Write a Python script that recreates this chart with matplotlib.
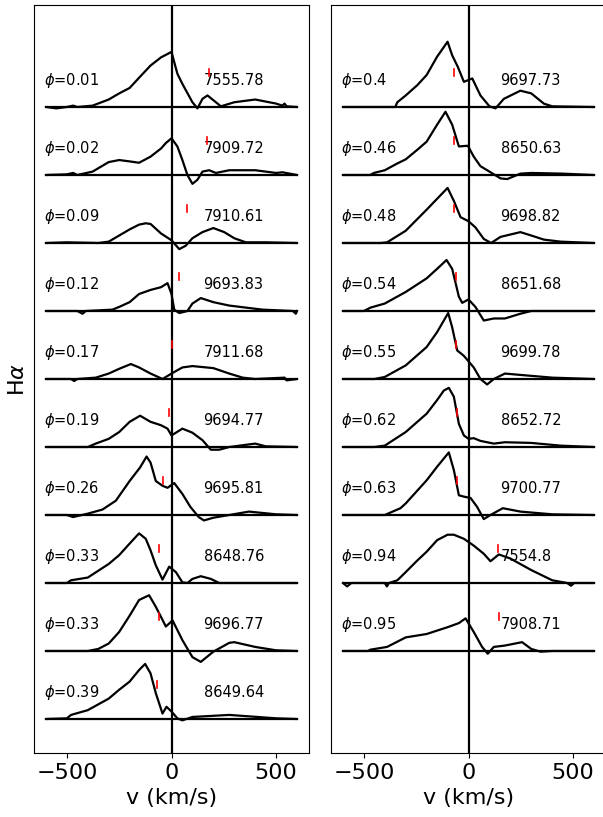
import matplotlib
matplotlib.use("Agg")
import matplotlib.pyplot as plt
import numpy as np

# ---------------- data (velocity km/s, relative flux) ----------------
phases_left = ["0.01", "0.02", "0.09", "0.12", "0.17", "0.19", "0.26", "0.33", "0.33", "0.39"]
ids_left = ["7555.78", "7909.72", "7910.61", "9693.83", "7911.68", "9694.77",
            "9695.81", "8648.76", "9696.77", "8649.64"]
marks_left = [177, 168, 72, 38, 0, -14, -43, -62, -62, -67]

phases_right = ["0.4", "0.46", "0.48", "0.54", "0.55", "0.62", "0.63", "0.94", "0.95"]
ids_right = ["9697.73", "8650.63", "9698.82", "8651.68", "9699.78", "8652.72",
             "9700.77", "7554.8", "7908.71"]
marks_right = [-67, -67, -67, -62, -62, -57, -53, 139, 148]

prof_0p01 = [(-600, 0), (-550, -0.02), (-500, 0.0), (-470, 0.02), (-450, 0), (-377, 0.02),
             (-300, 0.11), (-250, 0.2), (-200, 0.28), (-155, 0.43), (-100, 0.61),
             (-50, 0.73), (0, 0.81), (28, 0.49), (52, 0.34), (100, 0.07), (124, -0.02),
             (148, 0.12), (172, 0.17), (200, 0.1), (236, 0.01), (300, 0.07), (400, 0.11),
             (500, 0.05), (530, 0.02), (540, 0.05), (550, 0.01), (600, 0)]
prof_0p02 = [(-600, 0), (-500, 0.01), (-470, 0.03), (-450, 0.0), (-377, 0.05), (-300, 0.19),
             (-250, 0.22), (-200, 0.2), (-155, 0.18), (-100, 0.27), (-50, 0.39),
             (-27, 0.47), (0, 0.54), (28, 0.42), (52, 0.22), (76, 0.0), (100, -0.13),
             (124, -0.07), (148, 0.05), (180, 0.07), (212, 0.03), (276, 0.07), (400, 0.07),
             (500, 0.03), (530, 0.04), (600, 0)]
prof_0p09 = [(-600, 0), (-500, 0.01), (-350, 0.0), (-300, 0.02), (-250, 0.11), (-200, 0.2),
             (-155, 0.27), (-123, 0.29), (-100, 0.28), (-50, 0.14), (0, 0.04), (37, -0.09),
             (68, -0.04), (100, 0.07), (148, 0.16), (200, 0.22), (252, 0.16), (300, 0.07),
             (355, 0.01), (450, 0.01), (600, 0)]
prof_0p12 = [(-600, 0), (-450, 0.0), (-425, -0.04), (-410, 0.0), (-282, 0.02), (-250, 0.06),
             (-200, 0.13), (-155, 0.25), (-100, 0.31), (-50, 0.35), (-19, 0.41), (0, 0.25),
             (13, 0.02), (37, -0.03), (76, 0.0), (100, 0.11), (140, 0.19), (200, 0.13),
             (276, 0.08), (355, 0.05), (435, 0.02), (580, 0.0), (594, -0.04), (600, 0)]
prof_0p17 = [(-600, 0), (-480, 0.0), (-465, -0.03), (-450, 0.0), (-362, 0.02), (-300, 0.08),
             (-250, 0.15), (-194, 0.22), (-155, 0.17), (-100, 0.08), (-43, 0.0), (0, 0.08),
             (52, 0.17), (100, 0.19), (200, 0.16), (276, 0.08), (340, 0.02), (400, 0.0),
             (540, 0.02), (550, -0.02), (600, 0)]
prof_0p19 = [(-600, 0), (-400, 0.0), (-362, 0.05), (-300, 0.12), (-250, 0.22), (-200, 0.37),
             (-150, 0.46), (-100, 0.37), (-50, 0.32), (-19, 0.27), (0, 0.17), (52, 0.27),
             (100, 0.21), (148, 0.1), (188, -0.04), (228, -0.04), (276, 0.0), (400, 0.05),
             (450, 0.01), (600, 0)]
prof_0p26 = [(-600, 0), (-500, 0.0), (-470, -0.03), (-400, 0.02), (-330, 0.08), (-266, 0.21),
             (-200, 0.5), (-150, 0.7), (-119, 0.86), (-100, 0.77), (-75, 0.5), (-43, 0.43),
             (-19, 0.4), (13, 0.47), (52, 0.31), (90, 0.12), (130, -0.03), (155, -0.08),
             (200, -0.04), (276, 0.0), (370, 0.05), (435, 0.03), (500, 0.01), (600, 0)]
prof_0p33a = [(-600, 0), (-500, 0.0), (-480, 0.04), (-400, 0.08), (-300, 0.28), (-250, 0.41),
              (-200, 0.58), (-155, 0.73), (-123, 0.65), (-100, 0.48), (-75, 0.26),
              (-43, 0.05), (-11, 0.24), (21, 0.16), (52, 0.01), (76, 0.0), (100, 0.06),
              (140, 0.1), (188, 0.06), (228, 0.0), (600, 0)]
prof_0p33b = [(-600, 0), (-400, 0.0), (-350, 0.03), (-300, 0.11), (-250, 0.28), (-200, 0.52),
              (-155, 0.75), (-107, 0.82), (-75, 0.65), (-50, 0.5), (-27, 0.36), (5, 0.45),
              (52, 0.16), (100, -0.09), (140, -0.16), (200, -0.01), (276, 0.12),
              (300, 0.13), (400, 0.06), (500, 0.01), (600, 0)]
prof_0p39 = [(-600, 0), (-500, 0.01), (-480, 0.06), (-400, 0.13), (-300, 0.3), (-250, 0.43),
             (-200, 0.55), (-155, 0.72), (-126, 0.81), (-100, 0.67), (-75, 0.38),
             (-43, 0.08), (-24, 0.18), (0, 0.11), (28, 0.01), (52, -0.02), (100, 0.03),
             (276, 0.06), (500, 0.01), (600, 0)]

prof_0p4 = [(-600, 0), (-350, 0.0), (-340, 0.07), (-300, 0.17), (-245, 0.32), (-200, 0.47),
            (-150, 0.74), (-100, 0.96), (-78, 0.76), (-51, 0.59), (-22, 0.37), (18, 0.42),
            (57, 0.17), (100, 0.01), (129, -0.02), (169, 0.12), (248, 0.24), (300, 0.2),
            (360, 0.05), (400, 0.01), (600, 0)]
prof_0p46 = [(-600, 0), (-470, 0.0), (-452, 0.03), (-400, 0.07), (-340, 0.17), (-300, 0.23),
             (-245, 0.37), (-200, 0.49), (-150, 0.74), (-110, 0.93), (-78, 0.74),
             (-46, 0.42), (-3, 0.43), (25, 0.27), (57, 0.13), (100, 0.05), (153, -0.05),
             (185, -0.06), (248, 0.02), (300, 0.03), (450, 0.02), (600, 0)]
prof_0p48 = [(-600, 0), (-420, 0.0), (-389, 0.01), (-300, 0.18), (-200, 0.49), (-150, 0.65),
             (-100, 0.81), (-70, 0.62), (-38, 0.38), (0, 0.32), (33, 0.23), (73, 0.06),
             (108, 0.0), (153, 0.09), (248, 0.16), (300, 0.11), (360, 0.05), (440, 0.02),
             (600, 0)]
prof_0p54 = [(-600, 0), (-500, 0.0), (-468, 0.05), (-400, 0.11), (-300, 0.28), (-200, 0.48),
             (-150, 0.62), (-105, 0.75), (-78, 0.62), (-46, 0.21), (-30, 0.12), (0, 0.17),
             (33, 0.06), (73, -0.14), (121, -0.11), (174, -0.11), (248, -0.04), (300, 0.0),
             (600, 0)]
prof_0p55 = [(-600, 0), (-450, 0.0), (-400, 0.03), (-300, 0.2), (-200, 0.47), (-150, 0.69),
             (-97, 0.97), (-78, 0.76), (-54, 0.42), (-22, 0.34), (25, 0.17), (57, 0.0),
             (89, -0.08), (121, 0.0), (174, 0.08), (248, 0.06), (400, 0.02), (600, 0)]
prof_0p62 = [(-600, 0), (-450, 0.0), (-400, 0.02), (-300, 0.22), (-200, 0.49), (-150, 0.69),
             (-118, 0.83), (-94, 0.87), (-70, 0.74), (-46, 0.34), (-22, 0.17), (0, 0.12),
             (25, 0.13), (57, 0.09), (121, 0.05), (174, 0.07), (300, 0.06), (440, 0.02),
             (600, 0)]
prof_0p63 = [(-600, 0), (-400, 0.0), (-325, 0.1), (-300, 0.17), (-200, 0.51), (-150, 0.71),
             (-94, 0.92), (-70, 0.66), (-46, 0.29), (-22, 0.27), (10, 0.25), (41, 0.12),
             (73, -0.06), (105, 0.0), (164, 0.1), (248, 0.05), (400, 0.01), (600, 0)]
prof_0p94 = [(-600, 0), (-580, -0.05), (-560, 0.0), (-400, 0.0), (-390, -0.05), (-380, 0.0),
             (-340, 0.04), (-300, 0.16), (-245, 0.33), (-200, 0.46), (-150, 0.63),
             (-100, 0.71), (-70, 0.71), (-22, 0.65), (25, 0.55), (73, 0.43), (105, 0.32),
             (145, 0.42), (200, 0.36), (300, 0.19), (400, 0.04), (471, 0.0), (490, -0.04),
             (505, 0.0), (600, 0)]
prof_0p95 = [(-600, 0), (-480, 0.0), (-468, 0.02), (-389, 0.06), (-300, 0.2), (-200, 0.25),
             (-100, 0.35), (-46, 0.41), (-14, 0.48), (25, 0.28), (65, 0.06), (92, -0.04),
             (121, 0.06), (174, 0.08), (256, 0.13), (300, 0.03), (344, -0.01), (400, 0.0),
             (600, 0)]

profiles_left = [prof_0p01, prof_0p02, prof_0p09, prof_0p12, prof_0p17, prof_0p19,
                 prof_0p26, prof_0p33a, prof_0p33b, prof_0p39]
profiles_right = [prof_0p4, prof_0p46, prof_0p48, prof_0p54, prof_0p55, prof_0p62,
                  prof_0p63, prof_0p94, prof_0p95]

# ---------------- figure ----------------
W, H = 603, 817
fig = plt.figure(figsize=(W / 100, H / 100), dpi=100)
ax_l = fig.add_axes([34 / W, 64 / H, 275 / W, 748 / H])
ax_r = fig.add_axes([331 / W, 64 / H, 275 / W, 748 / H])


def draw(ax, profiles, phases, ids, marks):
    for i, (prof, ph, lab, mk) in enumerate(zip(profiles, phases, ids, marks)):
        off = -i
        v = np.array([p[0] for p in prof], dtype=float)
        f = np.array([p[1] for p in prof], dtype=float)
        ax.hlines(off, v.min(), v.max(), color='black', lw=1.6, zorder=2)
        ax.plot(v, f + off, color='black', lw=1.6, zorder=3, solid_joinstyle='round')
        ax.plot([mk, mk], [off + 0.45, off + 0.56], color='red', lw=1.2, zorder=4)
        ax.text(-608, off + 0.39, r"$\phi$=" + ph, fontsize=10.5, va='center', ha='left')
        ax.text(153, off + 0.39, lab, fontsize=10.5, va='center', ha='left')
    ax.axvline(0, color='black', lw=1.6, zorder=2)
    ax.set_xlim(-657, 657)
    ax.set_ylim(-9.5, 1.5)
    ax.set_yticks([])
    ax.set_xticks([-500, 0, 500])
    ax.tick_params(axis='x', labelsize=16)
    ax.set_xlabel("v (km/s)", fontsize=16)


draw(ax_l, profiles_left, phases_left, ids_left, marks_left)
draw(ax_r, profiles_right, phases_right, ids_right, marks_right)
ax_l.set_ylabel(r"H$\alpha$", fontsize=16)
ax_l.yaxis.set_label_coords(-0.02, 0.5)

fig.savefig("out.png", dpi=100)
